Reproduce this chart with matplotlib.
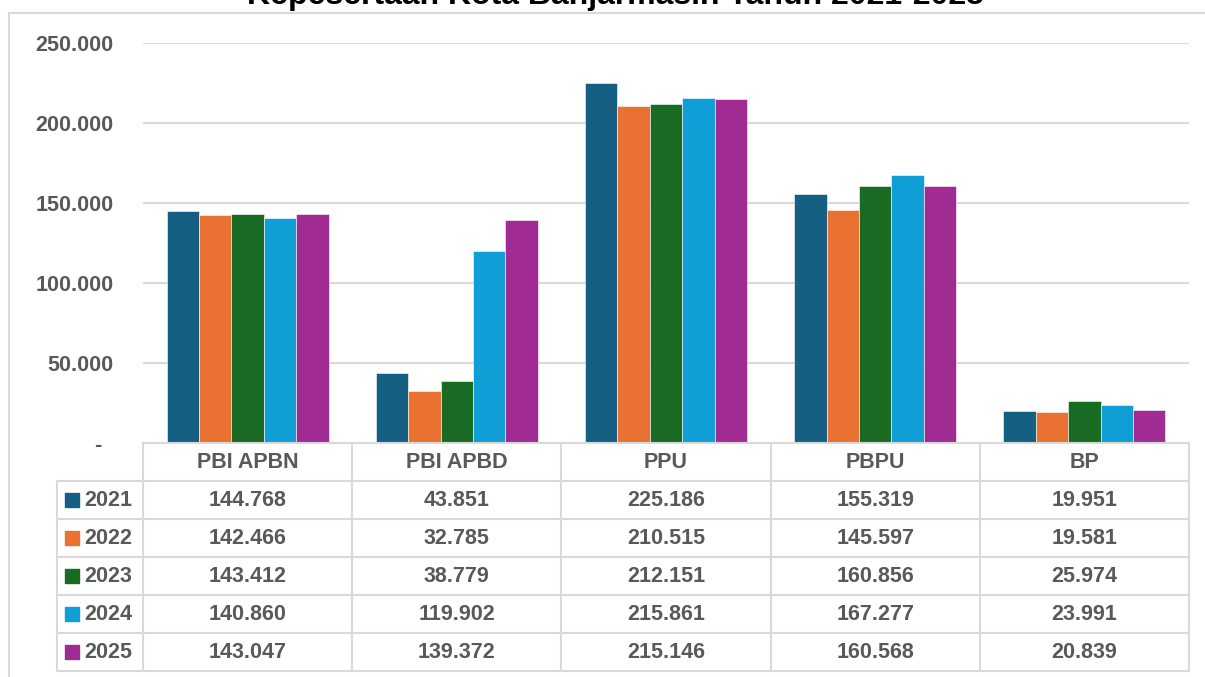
import numpy as np
import matplotlib.pyplot as plt
from matplotlib.lines import Line2D
from matplotlib.patches import Rectangle

# ---------------------------------------------- data ----------------------------------------------
categories = ['PBI APBN', 'PBI APBD', 'PPU', 'PBPU', 'BP']
years = ['2021', '2022', '2023', '2024', '2025']
v2021 = [144768, 43851, 225186, 155319, 19951]
v2022 = [142466, 32785, 210515, 145597, 19581]
v2023 = [143412, 38779, 212151, 160856, 25974]
v2024 = [140860, 119902, 215861, 167277, 23991]
v2025 = [143047, 139372, 215146, 160568, 20839]
series = [v2021, v2022, v2023, v2024, v2025]
colors = ['#156082', '#E97132', '#196B24', '#0F9ED5', '#A02B93']
title = 'Kepesertaan Kota Banjarmasin Tahun 2021-2025'

# ---------------------------------------------- layout ----------------------------------------------
W, H = 1205, 677
txt = '#595959'
grid_c = '#d9d9d9'
fs = 15.5
plt.rcParams['font.family'] = ['Liberation Sans', 'DejaVu Sans']

fig = plt.figure(figsize=(W / 100, H / 100), dpi=100)

def fx(x):
    return x / W

def fy(y):
    return 1 - y / H

# plot area in pixel coords of the picture
x0, x1, ytop, ybot = 143, 1189, 43, 443
ax = fig.add_axes([fx(x0), fy(ybot), fx(x1 - x0), (ybot - ytop) / H])

n = len(series)
bw = 0.155
xs = np.arange(len(categories))
for j, vals in enumerate(series):
    ax.bar(xs + (j - (n - 1) / 2) * bw, vals, width=bw, color=colors[j],
           edgecolor='white', linewidth=0.4, zorder=3)

ax.set_xlim(-0.5, len(categories) - 0.5)
ax.set_ylim(0, 250000)
ticks = np.arange(0, 250001, 50000)
ax.set_yticks(ticks)
ax.set_yticklabels(['-  '] + [f'{t:,.0f}'.replace(',', '.') for t in ticks[1:]],
                   fontsize=fs, fontweight='bold', color=txt)
ax.tick_params(axis='y', length=0, pad=21)
ax.set_xticks([])
for t in ticks[1:]:
    ax.axhline(t, color=grid_c, linewidth=1.5, zorder=1)
for s in ax.spines.values():
    s.set_visible(False)

# ---------------------------------------------- data table ----------------------------------------------
col_edges = np.linspace(x0, x1, len(categories) + 1)
row_h = 38
hdr_top = ybot
rows_top = hdr_top + row_h
tbl_bot = rows_top + row_h * len(years)
leg_left = 57
lw = 1.5

def hline(xa, xb, y):
    fig.add_artist(Line2D([fx(xa), fx(xb)], [fy(y), fy(y)], color=grid_c, linewidth=lw))

def vline(x, ya, yb):
    fig.add_artist(Line2D([fx(x), fx(x)], [fy(ya), fy(yb)], color=grid_c, linewidth=lw))

hline(x0, x1, hdr_top)
for r in range(len(years) + 1):
    hline(leg_left, x1, rows_top + r * row_h)
for x in col_edges:
    vline(x, hdr_top, tbl_bot)
vline(leg_left, rows_top, tbl_bot)

for i, cat in enumerate(categories):
    cx = (col_edges[i] + col_edges[i + 1]) / 2
    fig.text(fx(cx), fy(hdr_top + row_h / 2), cat, ha='center', va='center',
             fontsize=fs, fontweight='bold', color=txt)

for r, (yr, vals) in enumerate(zip(years, series)):
    cy = rows_top + r * row_h + row_h / 2
    fig.add_artist(Rectangle((fx(65), fy(cy + 7)), fx(14), 14 / H, color=colors[r],
                             transform=fig.transFigure))
    fig.text(fx(84), fy(cy), yr, ha='left', va='center',
             fontsize=fs, fontweight='bold', color=txt)
    for i, v in enumerate(vals):
        cx = (col_edges[i] + col_edges[i + 1]) / 2
        fig.text(fx(cx), fy(cy), f'{v:,.0f}'.replace(',', '.'), ha='center', va='center',
                 fontsize=fs, fontweight='bold', color=txt)

# ---------------------------------------------- chart frame & cut-off title ----------------------------------------------
fig.add_artist(Line2D([fx(9), fx(9)], [fy(13), 0], color=grid_c, linewidth=1.5))
fig.add_artist(Line2D([fx(9), 1], [fy(13), fy(13)], color=grid_c, linewidth=1.5))
# title sits mostly above the visible area, as in the reference crop
fig.text(fx(615), fy(4), title, ha='center', va='baseline',
         fontsize=23, fontweight='bold', color='black')

fig.savefig('out.png', dpi=100)
